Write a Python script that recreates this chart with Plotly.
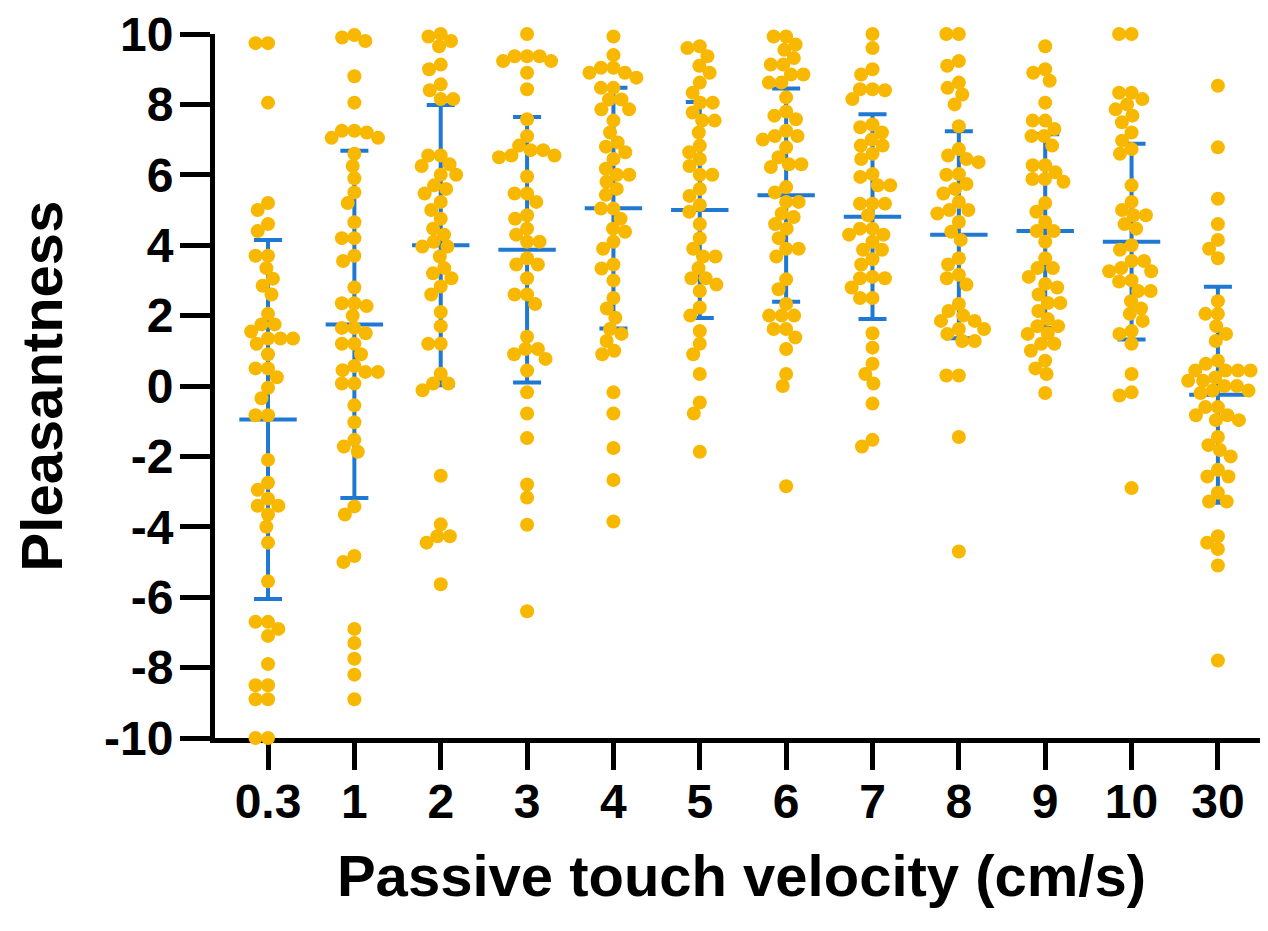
import math
import plotly.graph_objects as go

# ---------------- data ----------------
categories = ["0.3", "1", "2", "3", "4", "5", "6", "7", "8", "9", "10", "30"]

v_0_3 = [9.74, 9.74, 8.05, 5.2, 5.0, 4.6, 4.4, 3.7, 3.7, 3.35, 3.05, 2.85, 2.6, 2.05,
         1.75, 1.75, 1.55, 1.35, 1.35, 1.35, 1.2, 0.9, 0.5, 0.5, 0.25, -0.05, -0.35,
         -0.83, -0.83, -2.1, -2.75, -2.95, -3.2, -3.4, -3.4, -3.65, -4.0, -4.45, -5.55,
         -6.7, -6.7, -6.9, -7.1, -7.9, -8.5, -8.5, -8.9, -8.9, -10.0, -10.0]
v_1 = [9.97, 9.9, 9.8, 8.8, 8.05, 7.25, 7.25, 7.2, 7.05, 7.05, 6.6, 6.25, 5.9, 5.5, 5.2,
       4.65, 4.2, 4.2, 3.7, 3.55, 2.8, 2.35, 2.35, 2.27, 2.0, 1.65, 1.65, 1.5, 1.2, 1.2,
       0.9, 0.57, 0.45, 0.4, 0.4, 0.07, 0.07, -0.55, -1.03, -1.53, -1.72, -1.87, -3.42,
       -3.65, -4.83, -5.0, -6.9, -7.3, -7.75, -8.2, -8.9]
v_2 = [10.0, 9.93, 9.8, 9.65, 9.13, 9.0, 8.57, 8.4, 8.15, 8.15, 6.55, 6.55, 6.3, 6.25,
       6.0, 6.0, 5.7, 5.6, 5.47, 5.23, 5.0, 4.75, 4.47, 4.3, 4.1, 3.96, 3.96, 3.68, 3.35,
       3.2, 3.06, 2.83, 2.6, 2.1, 1.7, 1.2, 1.2, 0.35, 0.07, 0.07, -0.12, -2.55, -3.93,
       -4.27, -4.27, -4.45, -5.63]
v_3 = [10.0, 9.37, 9.37, 9.37, 9.23, 9.23, 8.9, 8.43, 7.58, 7.1, 6.83, 6.7, 6.7, 6.55,
       6.55, 6.5, 5.95, 5.47, 5.47, 5.23, 4.85, 4.75, 4.47, 4.3, 4.1, 4.1, 3.63, 3.45,
       3.45, 3.06, 2.6, 2.6, 2.33, 1.4, 1.05, 1.05, 0.9, 0.77, 0.44, -0.18, -0.78, -1.48,
       -2.8, -3.17, -3.94, -6.4]
v_4 = [9.93, 9.4, 9.04, 9.04, 8.9, 8.9, 8.76, 8.47, 8.47, 8.14, 8.14, 7.86, 7.86, 7.54,
       7.2, 6.92, 6.8, 6.64, 6.45, 6.17, 6.0, 6.0, 5.8, 5.6, 5.43, 5.04, 5.04, 4.75, 4.47,
       4.38, 4.1, 3.9, 3.45, 3.34, 3.0, 2.5, 2.2, 1.94, 1.62, 1.48, 1.28, 1.0, 0.9, -0.18,
       -0.78, -1.76, -2.67, -3.85]
v_5 = [9.65, 9.6, 9.37, 9.1, 8.9, 8.62, 8.33, 8.05, 8.05, 7.77, 7.54, 7.54, 7.2, 6.83,
       6.64, 6.45, 6.25, 6.0, 6.0, 5.6, 5.4, 5.14, 4.95, 4.6, 4.2, 3.9, 3.68, 3.68, 3.35,
       3.06, 3.06, 2.88, 2.7, 2.23, 2.0, 1.56, 1.2, 0.9, 0.34, -0.47, -0.78, -1.87]
v_6 = [9.93, 9.93, 9.7, 9.55, 9.32, 9.13, 9.13, 8.85, 8.85, 8.62, 8.62, 8.2, 7.8, 7.68,
       7.58, 7.25, 7.1, 7.1, 7.0, 6.78, 6.5, 6.3, 6.3, 6.22, 5.65, 5.5, 5.23, 5.23, 4.9,
       4.8, 4.6, 4.47, 4.2, 3.9, 3.9, 3.68, 3.03, 2.75, 2.33, 2.0, 2.0, 2.0, 1.62, 1.62,
       1.38, 1.05, 0.34, 0.0, -2.85]
v_7 = [10.0, 9.6, 9.0, 8.85, 8.43, 8.43, 8.4, 8.15, 7.43, 7.35, 7.2, 7.0, 6.83, 6.83,
       6.6, 6.45, 6.02, 5.94, 5.7, 5.7, 5.18, 5.18, 5.18, 4.85, 4.47, 4.47, 4.3, 4.3, 4.1,
       3.87, 3.87, 3.6, 3.45, 3.1, 3.06, 3.06, 2.8, 2.5, 2.5, 1.5, 1.09, 0.63, 0.34, 0.07,
       -0.5, -1.53, -1.72]
v_8 = [10.0, 10.0, 9.23, 9.1, 8.62, 8.47, 8.28, 8.0, 7.38, 6.73, 6.55, 6.45, 6.36, 6.02,
       6.0, 5.74, 5.6, 5.47, 5.23, 5.0, 5.0, 4.9, 4.66, 4.38, 4.15, 3.63, 3.45, 3.16, 3.06,
       2.88, 2.33, 2.13, 2.0, 1.85, 1.85, 1.62, 1.62, 1.48, 1.28, 1.28, 0.3, 0.3, -1.45,
       -4.7]
v_9 = [9.65, 9.0, 8.9, 8.67, 8.05, 7.54, 7.54, 7.3, 7.1, 7.1, 6.83, 6.27, 6.27, 6.07,
       5.88, 5.88, 5.8, 5.2, 4.95, 4.66, 4.4, 4.4, 4.1, 3.63, 3.35, 3.35, 3.1, 2.9, 2.8,
       2.6, 2.36, 2.36, 2.13, 1.9, 1.7, 1.7, 1.5, 1.48, 1.2, 1.2, 1.0, 0.72, 0.5, 0.34,
       -0.2]
v_10 = [10.0, 10.0, 8.33, 8.33, 8.15, 8.0, 7.86, 7.68, 7.49, 7.2, 6.97, 6.73, 6.6, 5.7,
        5.23, 5.0, 4.85, 4.85, 4.6, 4.47, 4.0, 3.87, 3.55, 3.55, 3.35, 3.26, 3.26, 3.0,
        2.97, 2.7, 2.7, 2.41, 2.2, 2.05, 1.85, 1.56, 1.48, 1.2, 0.34, -0.18, -0.27, -2.9]
v_30 = [8.53, 6.78, 5.32, 4.6, 4.15, 3.9, 3.63, 2.41, 2.05, 2.05, 1.7, 1.48, 1.28, 0.72,
        0.63, 0.44, 0.44, 0.44, 0.44, 0.24, 0.15, 0.15, 0.0, 0.0, -0.13, -0.13, -0.2,
        -0.6, -0.6, -0.83, -0.83, -0.97, -0.97, -1.45, -1.68, -1.82, -2.0, -2.38, -2.57,
        -2.57, -3.03, -3.28, -3.28, -4.27, -4.45, -4.63, -5.1, -7.8]

series = [v_0_3, v_1, v_2, v_3, v_4, v_5, v_6, v_7, v_8, v_9, v_10, v_30]

means = [-0.95, 1.75, 4.0, 3.87, 5.05, 5.0, 5.42, 4.81, 4.3, 4.4, 4.1, -0.25]
sds = [5.1, 4.93, 3.98, 3.77, 3.42, 3.07, 3.03, 2.91, 2.94, 2.75, 2.78, 3.07]

yticks = [-10, -8, -6, -4, -2, 0, 2, 4, 6, 8, 10]
ytick_text = ["-10", "-8", "-6", "-4", "-2", "0", "2", "4", "6", "8", "10"]

# ---------------- styling ----------------
# the page body has an 8px margin, so the figure is sized to end at the window edge
W, H = 1260, 923
ML, MR, MT, MB = 207, 0, 22, 193
X_RANGE = [-0.614, 11.58]
Y_RANGE = [-10, 10]
YELLOW = "#F8B800"
BLUE = "#1F78D1"
FONT = "Liberation Sans"

px_per_x = (W - ML - MR) / (X_RANGE[1] - X_RANGE[0])
px_per_y = (H - MT - MB) / (Y_RANGE[1] - Y_RANGE[0])


def swarm_offsets(vals, d=12.5):
    """Beeswarm horizontal offsets (in pixels) so dots do not pile up."""
    order = sorted(range(len(vals)), key=lambda k: -vals[k])
    placed = []
    offs = [0.0] * len(vals)
    for k in order:
        y = vals[k] * px_per_y
        near = [(px, py) for px, py in placed if abs(py - y) < d]
        cands = [0.0]
        for px, py in near:
            dx = math.sqrt(max(d * d - (py - y) ** 2, 0.0))
            cands += [px + dx, px - dx]
        cands.sort(key=lambda c: (abs(c), c))
        for c in cands:
            if all((c - px) ** 2 + (y - py) ** 2 >= d * d - 1e-6 for px, py in near):
                offs[k] = c
                placed.append((c, y))
                break
    return offs


fig = go.Figure()

# mean +/- SD bars (drawn beneath the dots); line-ew symbol is 1.4*size wide
fig.add_trace(go.Scatter(
    x=list(range(len(categories))), y=means, mode="markers",
    marker=dict(symbol="line-ew", size=41, color=BLUE, line=dict(width=4, color=BLUE)),
    error_y=dict(type="data", array=sds, visible=True, thickness=4, width=14, color=BLUE),
    showlegend=False, hoverinfo="skip", cliponaxis=False,
))

for i, vals in enumerate(series):
    offs = swarm_offsets(vals)
    xs = [i + o / px_per_x for o in offs]
    fig.add_trace(go.Scatter(
        x=xs, y=vals, mode="markers",
        marker=dict(size=14, color=YELLOW, line=dict(width=0)),
        showlegend=False, cliponaxis=False, name=categories[i],
    ))

tickfont = dict(family=FONT, size=48, color="black", weight="bold")
titlefont = dict(family=FONT, size=58, color="black", weight="bold")

fig.update_layout(
    width=W, height=H,
    margin=dict(l=ML, r=MR, t=MT, b=MB, pad=0),
    paper_bgcolor="white", plot_bgcolor="white",
    xaxis=dict(
        range=X_RANGE, tickmode="array", tickvals=list(range(len(categories))),
        ticktext=categories, showgrid=False, zeroline=False,
        showline=True, linecolor="black", linewidth=5,
        ticks="outside", ticklen=27, tickwidth=5, tickcolor="black",
        tickfont=tickfont, ticklabelstandoff=-10, layer="below traces",
        ticklabeloverflow="allow",
        title=dict(text="Passive touch velocity (cm/s)", font=titlefont, standoff=30),
    ),
    yaxis=dict(
        range=Y_RANGE, tickmode="array", tickvals=yticks, ticktext=ytick_text,
        showgrid=False, zeroline=False,
        showline=True, linecolor="black", linewidth=5,
        ticks="outside", ticklen=30, tickwidth=5, tickcolor="black",
        tickfont=tickfont, ticklabelstandoff=-3, layer="below traces",
        ticklabeloverflow="allow",
        title=dict(text="Pleasantness", font=titlefont, standoff=24),
    ),
)

fig.write_html("out.html")
